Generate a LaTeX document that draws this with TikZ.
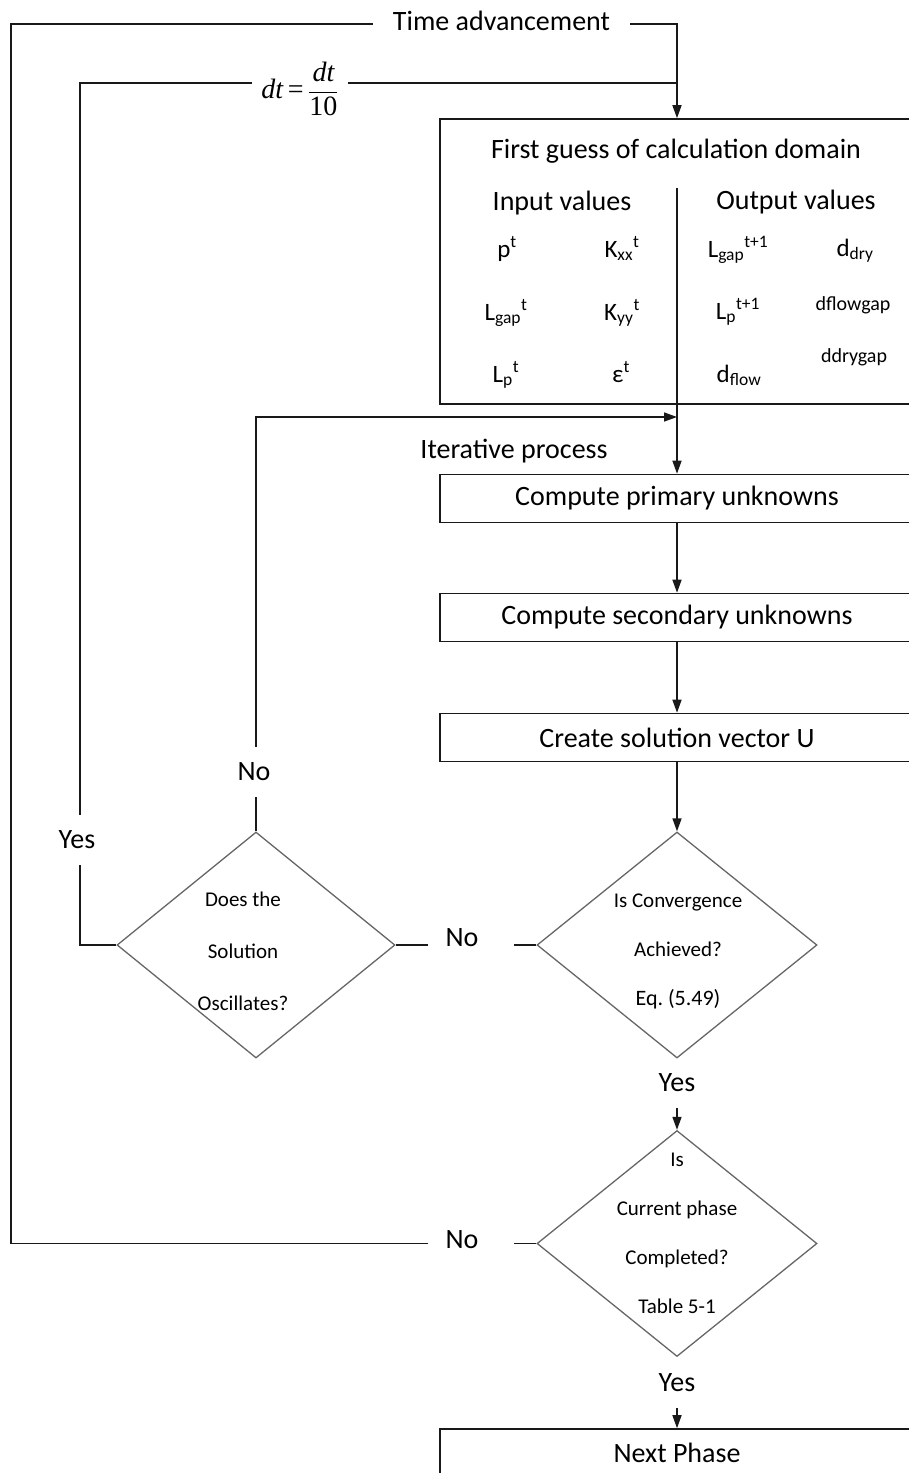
\documentclass[tikz,border=0pt]{standalone}
\usepackage{fontspec}
\setmainfont{Carlito}
\newfontfamily\tmr{Liberation Serif}
\usetikzlibrary{shapes.geometric,arrows.meta,calc}
\begin{document}
\begin{tikzpicture}[x=1pt,y=-1pt]
\tikzset{
  every node/.style={inner sep=0pt},
  base/.style={font=\fontsize{28}{34}\selectfont},
  box/.style={base, draw=black!90, line width=1.6pt, minimum width=474pt, minimum height=48pt},
  dia/.style={diamond, draw=black!60, line width=1.3pt, minimum width=280pt, minimum height=226pt},
  lbl/.style={base, inner ysep=16pt},
  dtxt/.style={font=\fontsize{21}{49}\selectfont, align=center},
  sym/.style={font=\fontsize{25}{30}\selectfont, anchor=base},
  small/.style={font=\fontsize{20}{24}\selectfont, anchor=base},
  conn/.style={draw=black!90, line width=1.5pt},
  arr/.style={conn, -{Triangle[length=13pt,width=9pt]}},
}
\useasboundingbox (0,0) rectangle (909,1473);
\clip (0,0) rectangle (909,1473);

% ---- first guess block ----
\node[box, minimum height=285pt] (guess) at (677,261.5) {};
\node[base, anchor=base] (head) at (676,158) {First guess of calculation domain};
\node[base, anchor=base] (inhd) at (562,210) {Input values};
\node[base, anchor=base] (outhd) at (796,209) {Output values};
\node[sym] (pt)   at (507,257) {p\textsuperscript{t}};
\node[sym] (kxx)  at (622,257) {K\textsubscript{xx}\textsuperscript{t}};
\node[sym] (lgap) at (506,320) {L\textsubscript{gap}\textsuperscript{t}};
\node[sym] (kyy)  at (622,320) {K\textsubscript{yy}\textsuperscript{t}};
\node[sym] (lpt)  at (506,382) {L\textsubscript{p}\textsuperscript{t}};
\node[sym] (eps)  at (621,382) {ε\textsuperscript{t}};
\node[sym] (lgapn) at (738,257) {L\textsubscript{gap}\textsuperscript{t+1}};
\node[sym] (lpn)   at (738,319) {L\textsubscript{p}\textsuperscript{t+1}};
\node[sym] (dflow) at (739,382) {d\textsubscript{flow}};
\node[sym] (ddry)  at (855,256) {d\textsubscript{dry}};
\node[small] (dfg) at (853,310) {dflowgap};
\node[small] (ddg) at (854,362) {ddrygap};
\coordinate (divtop) at (677,188);

% ---- process boxes ----
\node[base] (iter) at (514,451) {Iterative process};
\node[box] (prim)   at (677,498.5) {Compute primary unknowns};
\node[box] (sec)    at (677,617.5) {Compute secondary unknowns};
\node[box] (create) at (677,737.5) {Create solution vector U};
\node[box] (next)   at (677,1453) {Next Phase};

% ---- decisions ----
\node[dia] (conv)  at (677,945) {};
\node[dia, minimum width=278pt] (osc) at (256,945) {};
\node[dia] (phase) at (677,1243.5) {};
\node[dtxt] (convt) at (678,951) {Is Convergence\\Achieved?\\{\fontsize{22}{49}\selectfont Eq.\ (5.49)}};
\node[dtxt, font=\fontsize{21}{52}\selectfont] (osct) at (243,951) {Does the\\Solution\\Oscillates?};
\node[dtxt] (phaset) at (677,1233) {Is\\Current phase\\Completed?\\Table 5-1};

% ---- branch labels ----
\node[base, inner xsep=20pt] (ta) at (501.5,21) {Time advancement};
\node[font=\fontsize{28}{34}\tmr, inner xsep=9pt] (dtfrac) at (300,89)
  {\itshape dt\upshape\,=\,$\displaystyle\frac{\hbox{\tmr\itshape dt}}{\hbox{\tmr 10}}$};
\node[lbl] (yesL) at (77,840) {Yes};
\node[lbl] (noO)  at (254,772) {No};
\node[base, inner xsep=17pt] (noC) at (471,938) {No\kern18pt};
\node[base, inner xsep=17pt] (noP) at (471,1240) {No\kern18pt};
\node[lbl] (yesC) at (677,1083) {Yes};
\node[lbl] (yesP) at (677,1383) {Yes};

\coordinate (tl) at (11,24);
\coordinate (dtc) at (80,83);
\coordinate (merge) at (677,417);

% ---- connectors ----
% outer time loop
\draw[conn] (phase.west) -- (phase.west -| noP.east);
\draw[conn] (phase.west -| noP.west) -- (phase.west -| tl) -- (tl) -- (tl -| ta.west);
\draw[arr] (tl -| ta.east) -- (tl -| guess.north) -- (guess.north);
% time step reduction loop
\draw[conn] (osc.west) -- (osc.west -| dtc) -- (yesL.south -| dtc);
\draw[conn] (yesL.north -| dtc) -- (dtc) -- (dtc -| dtfrac.west);
\draw[conn] (dtc -| dtfrac.east) -- (dtc -| guess.north);
% iteration loop
\draw[conn] (osc.north) -- (noO.south -| osc.north);
\draw[arr] (noO.north -| osc.north) -- (osc.north |- merge) -- (merge);
\draw[conn] (conv.west) -- (conv.west -| noC.east);
\draw[conn] (osc.east -| noC.west) -- (osc.east);
% main chain
\draw[conn] (divtop) -- (guess.south);
\draw[arr] (guess.south) -- (prim.north);
\draw[arr] (prim.south) -- (sec.north);
\draw[arr] (sec.south) -- (create.north);
\draw[arr] (create.south) -- (conv.north);
\draw[arr] (yesC.south) -- (phase.north);
\draw[arr] (yesP.south) -- (next.north);
\end{tikzpicture}
\end{document}
